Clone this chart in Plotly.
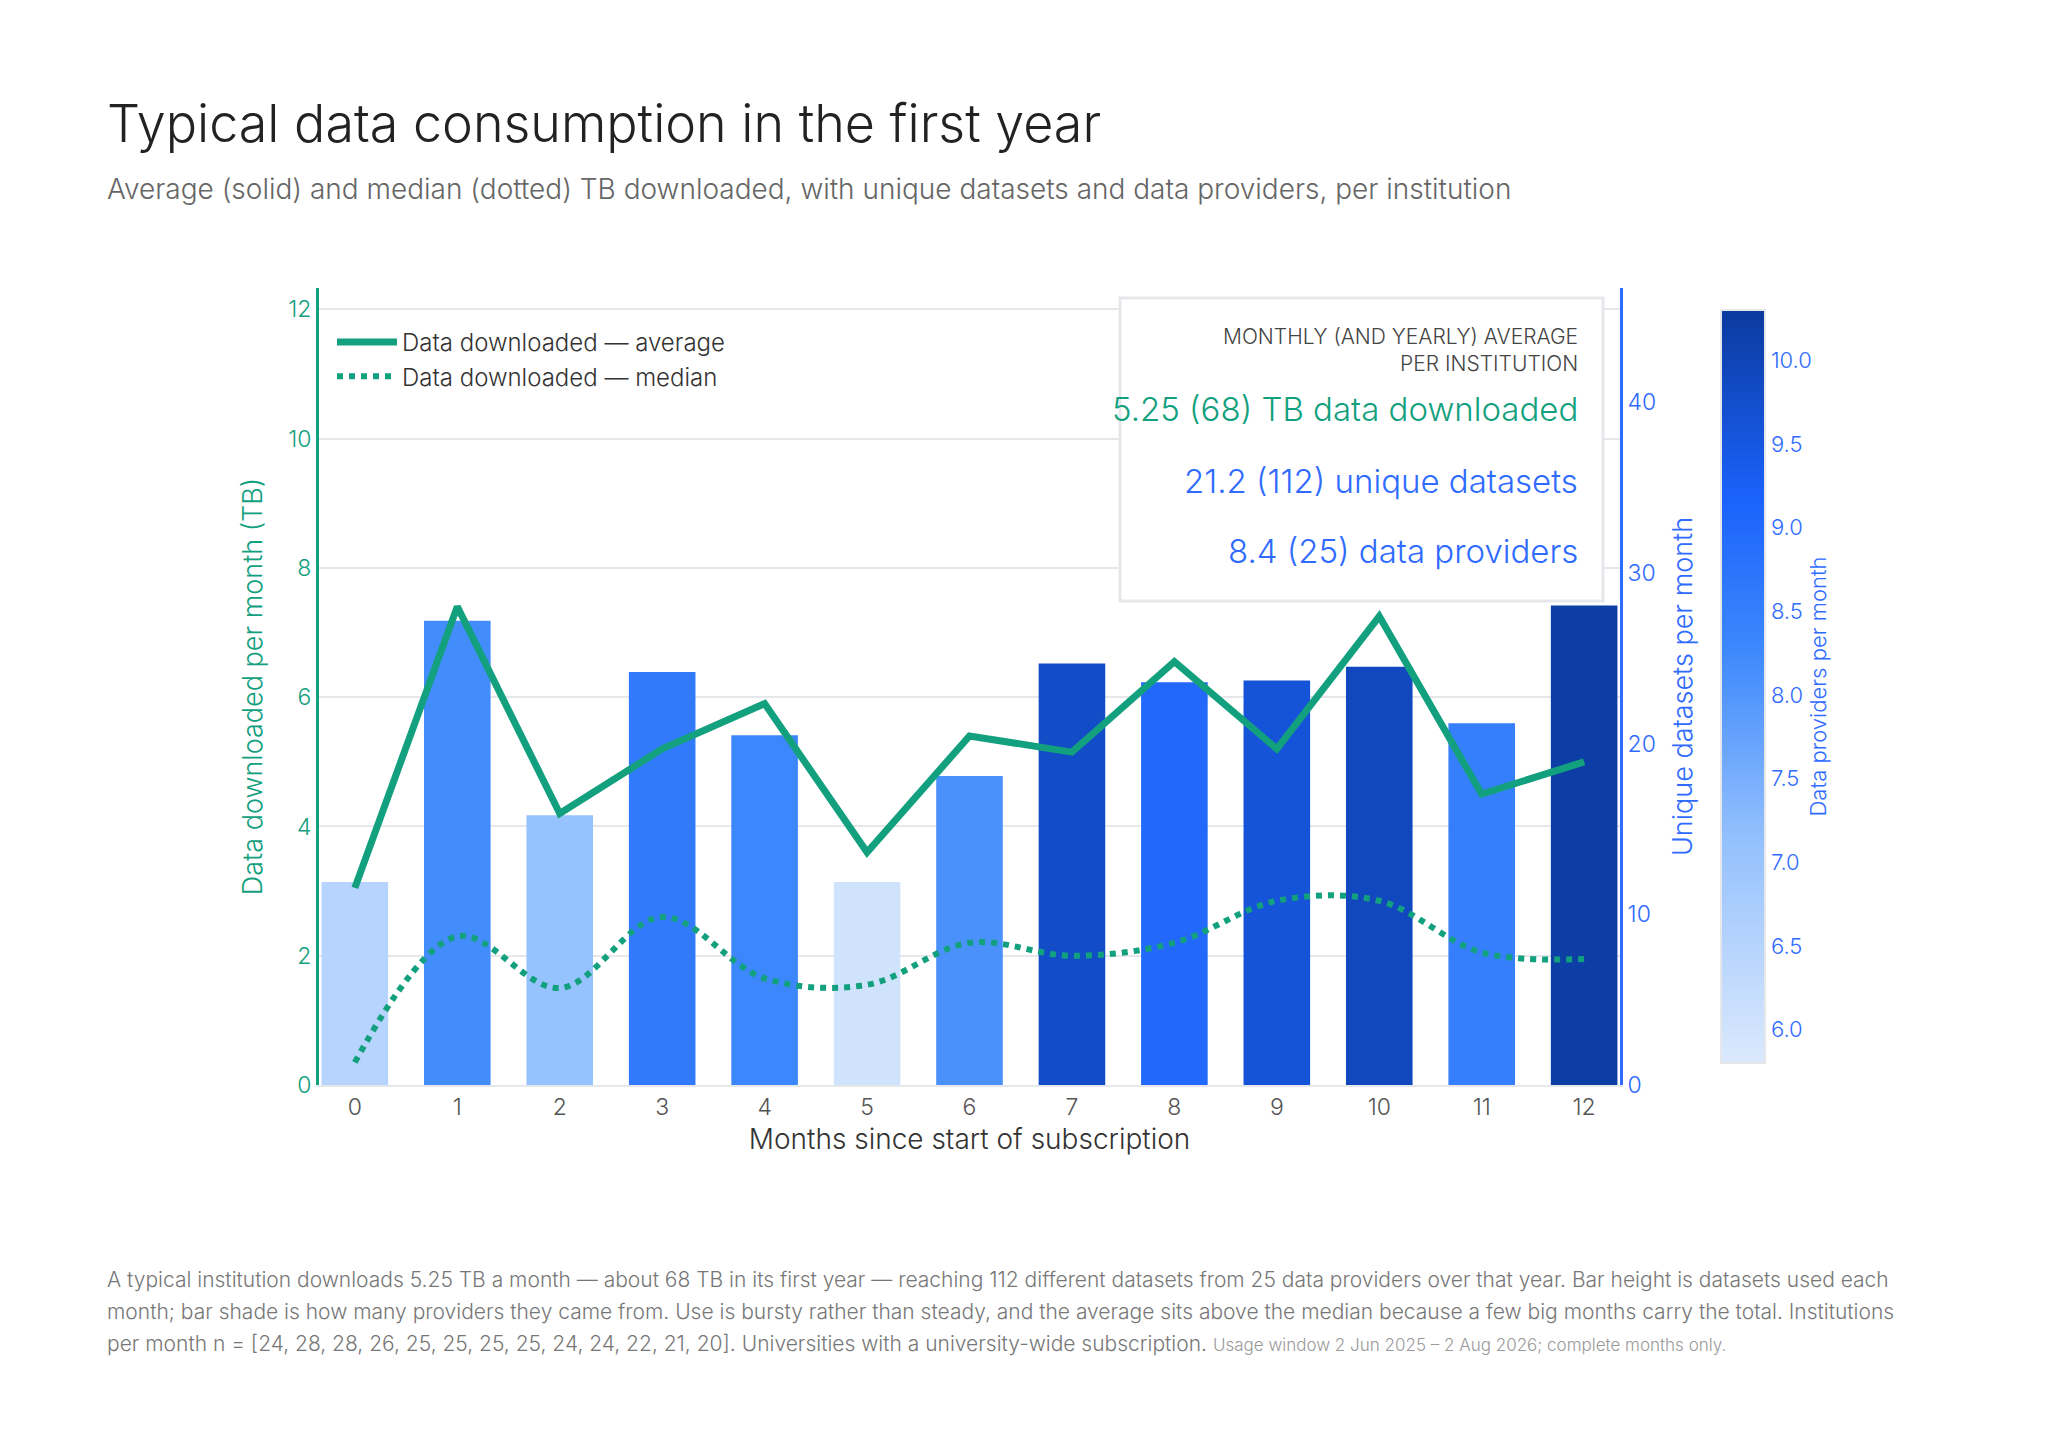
import plotly.graph_objects as go

months = list(range(13))
avg_tb = [3.05, 7.4, 4.2, 5.2, 5.9, 3.6, 5.4, 5.15, 6.55, 5.2, 7.25, 4.5, 5.0]
median_tb = [0.35, 2.3, 1.5, 2.6, 1.65, 1.55, 2.2, 2.0, 2.2, 2.85, 2.85, 2.05, 1.95]
datasets = [11.9, 27.2, 15.8, 24.2, 20.5, 11.9, 18.1, 24.7, 23.6, 23.7, 24.5, 21.2, 28.1]
providers = [6.5, 8.2, 7.1, 8.6, 8.3, 6.0, 8.1, 9.8, 9.0, 9.6, 9.9, 8.5, 10.2]

footnote_lines = [
    "A typical institution downloads 5.25 TB a month — about 68 TB in its first year — reaching 112 different datasets from 25 data providers over that year. Bar height is datasets used each",
    "month; bar shade is how many providers they came from. Use is bursty rather than steady, and the average sits above the median because a few big months carry the total. Institutions",
    "per month n = [24, 28, 28, 26, 25, 25, 25, 25, 24, 24, 22, 21, 20]. Universities with a university-wide subscription. "
    "<span style='font-size:17px;color:#999'>Usage window 2 Jun 2025 – 2 Aug 2026; complete months only.</span>",
]

GREEN = "#13a07e"
BLUE = "#2f6bff"
FONT = "Inter"
W, H = 2048, 1439
L, R, T, B = 311, 436, 280, 362
PW, PH = W - L - R, H - T - B

scale = [[0.0, "#dbe9fd"], [0.3, "#93c0fd"], [0.55, "#3d88fc"],
         [0.75, "#1b62fb"], [1.0, "#0b3a9e"]]


def px(x, y):
    return (x - L) / PW, 1 - (y - T) / PH


fig = go.Figure()

# bars on primary axis (right side), lines on overlaying axis so they draw on top
fig.add_trace(go.Bar(
    x=months, y=datasets, yaxis="y", width=0.65, showlegend=False,
    marker=dict(color=providers, colorscale=scale, cmin=5.8, cmax=10.3,
                line=dict(width=0),
                colorbar=dict(
                    x=1.07, xanchor="left", y=0.5, yanchor="middle",
                    len=0.97, thickness=44, outlinewidth=2, outlinecolor="#e5e7eb",
                    tickvals=[6.0, 6.5, 7.0, 7.5, 8.0, 8.5, 9.0, 9.5, 10.0],
                    tickformat=".1f",
                    tickfont=dict(color=BLUE, size=22, family=FONT, weight=300),
                    title=dict(text="Data providers per month", side="right",
                               font=dict(color=BLUE, size=22, family=FONT, weight=300)))),
))

fig.add_trace(go.Scatter(
    x=months, y=avg_tb, yaxis="y2", mode="lines", name="Data downloaded — average",
    line=dict(color=GREEN, width=7),
))
fig.add_trace(go.Scatter(
    x=months, y=median_tb, yaxis="y2", mode="lines", name="Data downloaded — median",
    line=dict(color=GREEN, width=6, dash="dot", shape="spline"),
))

fig.update_layout(
    width=W, height=H,
    margin=dict(l=L, r=R, t=T, b=B),
    paper_bgcolor="white", plot_bgcolor="white",
    font=dict(family=FONT, color="#444", weight=300),
    xaxis=dict(tickvals=months, range=[-0.35, 12.35], showgrid=False,
               showline=True, linecolor="#e5e7eb", linewidth=2,
               tickfont=dict(size=23, color="#555"),
               title=dict(text="Months since start of subscription",
                          font=dict(size=28, color="#333"), standoff=10)),
    yaxis=dict(range=[0, 46.7], tickvals=[0, 10, 20, 30, 40],
               side="right", showgrid=False, zeroline=False,
               showline=True, linecolor=BLUE, linewidth=3,
               tickfont=dict(size=23, color=BLUE),
               title=dict(text="Unique datasets per month",
                          font=dict(size=27, color=BLUE), standoff=18)),
    yaxis2=dict(range=[0, 12.33], tickvals=[0, 2, 4, 6, 8, 10, 12], overlaying="y",
                side="left", gridcolor="#e5e7eb", gridwidth=2, zeroline=False,
                showline=True, linecolor=GREEN, linewidth=3,
                tickfont=dict(size=23, color=GREEN),
                title=dict(text="Data downloaded per month (TB)",
                           font=dict(size=27, color=GREEN), standoff=18)),
    legend=dict(x=0.01, y=0.96, xanchor="left", yanchor="top",
                bgcolor="rgba(0,0,0,0)", font=dict(size=24, color="#333"),
                itemwidth=60, tracegroupgap=6),
)

# title and subtitle
tx, ty = px(97, 116)
fig.add_annotation(text="Typical data consumption in the first year", xref="paper", yref="paper",
                   x=tx, y=ty, xanchor="left", yanchor="middle", showarrow=False,
                   font=dict(size=52, color="#222", family=FONT, weight=300))
tx, ty = px(97, 181)
fig.add_annotation(text="Average (solid) and median (dotted) TB downloaded, with unique datasets "
                        "and data providers, per institution",
                   xref="paper", yref="paper", x=tx, y=ty, xanchor="left", yanchor="middle",
                   showarrow=False, font=dict(size=28, color="#666", family=FONT, weight=300))

# summary box
x0, y0 = px(1112, 593)
x1, y1 = px(1595, 290)
fig.add_shape(type="rect", xref="paper", yref="paper", x0=x0, x1=x1, y0=y0, y1=y1,
              line=dict(color="#e5e7eb", width=3), fillcolor="white", layer="above")
box_lines = [
    ("MONTHLY (AND YEARLY) AVERAGE<br>PER INSTITUTION", 342, 21, "#444"),
    ("5.25 (68) TB data downloaded", 401, 33, GREEN),
    ("21.2 (112) unique datasets", 473, 33, BLUE),
    ("8.4 (25) data providers", 543, 33, BLUE),
]
for txt, ypx, size, col in box_lines:
    bx, by = px(1572, ypx)
    fig.add_annotation(text=txt, xref="paper", yref="paper", x=bx, y=by,
                       xanchor="right", yanchor="middle", align="right", showarrow=False,
                       font=dict(size=size, color=col, family=FONT, weight=300))

for i, line in enumerate(footnote_lines):
    fx, fy = px(97, 1271 + 32 * i)
    fig.add_annotation(text=line, xref="paper", yref="paper", x=fx, y=fy,
                       xanchor="left", yanchor="middle", align="left", showarrow=False,
                       font=dict(size=21, color="#777", family=FONT, weight=300))

fig.write_html("out.html")
